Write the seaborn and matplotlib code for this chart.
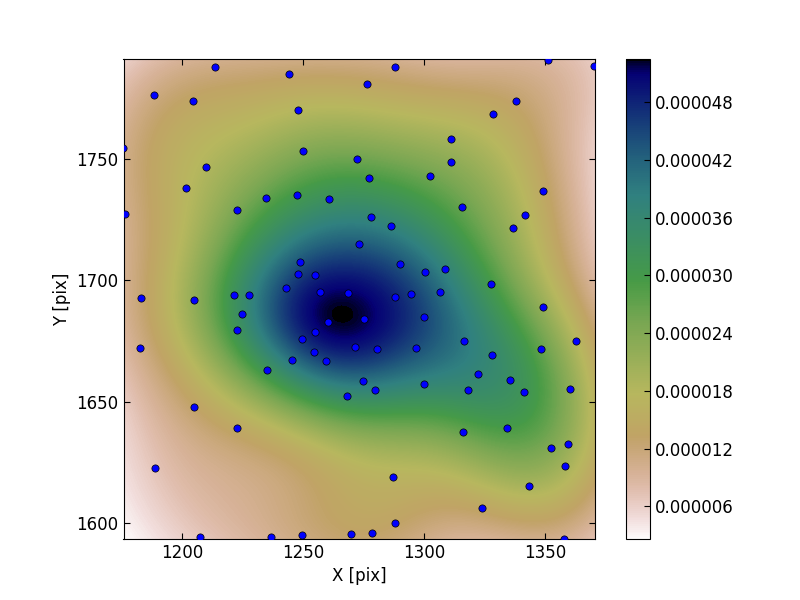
import matplotlib
matplotlib.use("Agg")
import matplotlib.pyplot as plt
import pandas as pd
import seaborn as sns
from matplotlib.cm import ScalarMappable
from matplotlib.colors import Normalize

# star positions
x_pix = [1213.6, 1244.1, 1188.4, 1204.5, 1247.8, 1175.8, 1250.0, 1272.3, 1209.9, 1201.5,
         1234.7, 1247.5, 1260.7, 1176.4, 1222.7, 1273.1, 1248.8, 1247.9, 1255.0, 1243.0,
         1221.5, 1227.7, 1257.0, 1268.6, 1183.1, 1205.0, 1288.0, 1276.4, 1338.0, 1328.5,
         1351.1, 1370.2, 1311.2, 1311.2, 1302.5, 1277.3, 1349.2, 1315.7, 1341.7, 1336.8,
         1278.1, 1286.4, 1290.1, 1300.4, 1308.7, 1327.6, 1288.0, 1294.6, 1306.6, 1224.8,
         1222.7, 1182.6, 1260.3, 1255.0, 1249.6, 1271.5, 1254.5, 1245.5, 1259.5, 1235.1,
         1274.8, 1268.2, 1205.0, 1222.7, 1188.8, 1207.4, 1236.8, 1249.6, 1269.8, 1275.2,
         1349.2, 1300.0, 1316.5, 1362.8, 1348.3, 1328.1, 1280.6, 1296.7, 1322.3, 1279.8,
         1300.0, 1318.2, 1335.5, 1341.3, 1360.3, 1334.3, 1316.1, 1359.5, 1352.5, 1358.3,
         1287.2, 1343.4, 1324.0, 1288.0, 1278.5, 1357.9]
y_pix = [1787.7, 1784.8, 1776.1, 1773.7, 1770.0, 1754.3, 1753.1, 1749.8, 1746.5, 1737.9,
         1733.7, 1735.0, 1733.3, 1727.2, 1728.8, 1714.8, 1707.4, 1702.5, 1702.0, 1696.7,
         1693.8, 1693.8, 1695.0, 1694.7, 1692.6, 1691.9, 1787.7, 1780.7, 1773.7, 1768.3,
         1790.7, 1788.2, 1758.0, 1748.6, 1742.8, 1742.0, 1736.6, 1730.0, 1726.7, 1721.4,
         1725.9, 1722.2, 1706.6, 1703.3, 1704.5, 1698.4, 1693.0, 1694.2, 1695.0, 1686.0,
         1679.4, 1672.0, 1682.7, 1678.6, 1675.7, 1672.4, 1670.4, 1667.1, 1666.7, 1663.0,
         1658.4, 1652.3, 1647.7, 1639.1, 1622.6, 1594.2, 1594.2, 1595.1, 1595.5, 1684.0,
         1688.9, 1684.8, 1674.9, 1674.9, 1671.6, 1669.1, 1671.6, 1672.0, 1661.3, 1654.7,
         1657.2, 1654.7, 1658.8, 1653.9, 1655.1, 1639.1, 1637.4, 1632.5, 1630.9, 1623.5,
         1618.9, 1615.2, 1606.2, 1600.0, 1595.9, 1593.4]

x_ticks = [1200, 1250, 1300, 1350]
y_ticks = [1600, 1650, 1700, 1750]
cbar_ticks = [0.000006, 0.000012, 0.000018, 0.000024, 0.000030, 0.000036, 0.000042, 0.000048]

df = pd.DataFrame({"x": x_pix, "y": y_pix})

fig = plt.figure(figsize=(8, 6), dpi=100)
ax = fig.add_axes([123.5 / 800, 61 / 600, 471.5 / 800, 480 / 600])
cax = fig.add_axes([626 / 800, 61 / 600, 24 / 800, 480 / 600])

norm = Normalize(vmin=2.6e-6, vmax=5.25e-5)
sns.kdeplot(data=df, x="x", y="y", ax=ax, fill=True, levels=800, thresh=0,
            gridsize=300, cmap="gist_earth_r", norm=norm, bw_adjust=1.0)
sns.scatterplot(data=df, x="x", y="y", ax=ax, color="#0000ff", edgecolor="black",
                linewidth=0.5, s=27, zorder=3)

ax.set_xlim(1175.8, 1370.5)
ax.set_ylim(1593.5, 1791)
ax.set_xticks(x_ticks)
ax.set_yticks(y_ticks)
ax.tick_params(direction="in", length=4, top=True, right=True, labelsize=12)
ax.set_xlabel("X [pix]", fontsize=12)
ax.set_ylabel("Y [pix]", fontsize=12)

cb = fig.colorbar(ScalarMappable(norm=norm, cmap="gist_earth_r"), cax=cax,
                  ticks=cbar_ticks, format="%.6f")
cb.ax.tick_params(direction="in", length=4, labelsize=12)

fig.savefig("out.png", dpi=100)
